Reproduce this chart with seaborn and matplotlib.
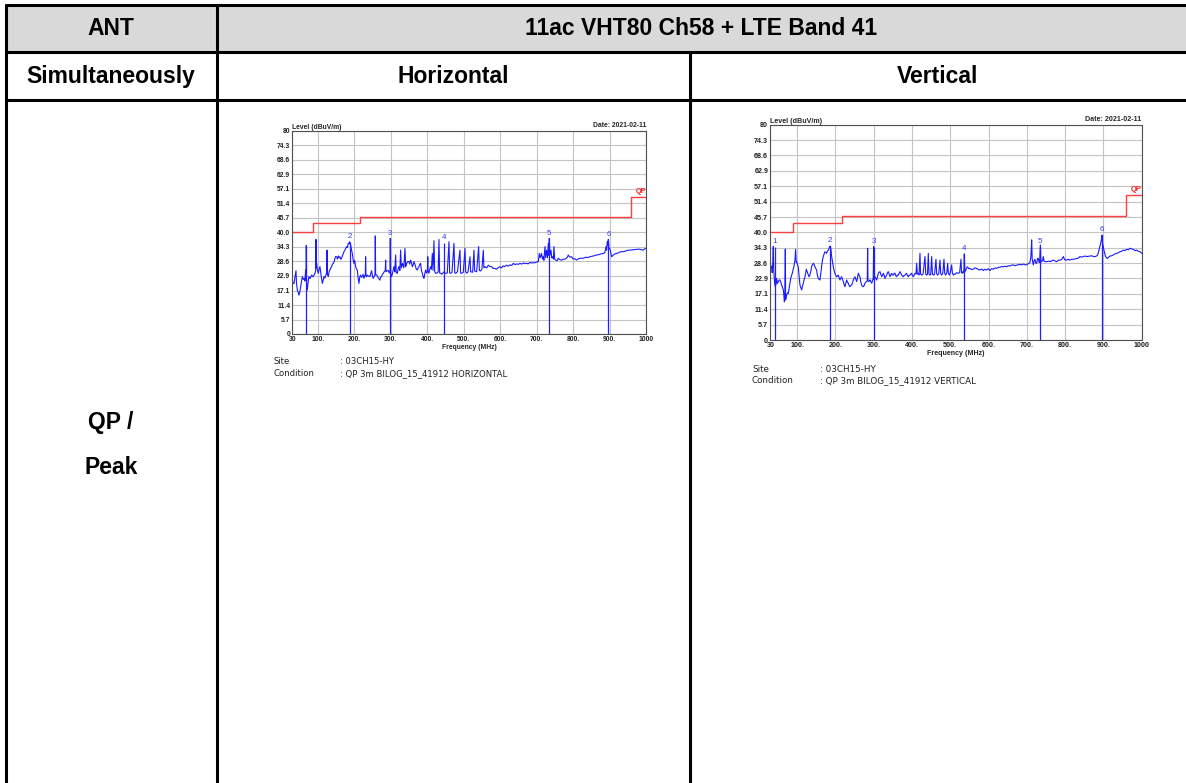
import matplotlib
matplotlib.use("Agg")
import matplotlib.pyplot as plt
import seaborn as sns
import pandas as pd
from matplotlib.lines import Line2D
from matplotlib.patches import Rectangle

sns.set_theme(style="white")
plt.rcParams['font.family'] = ['Liberation Sans', 'DejaVu Sans']

# ---------------- data ----------------
header_ant = "ANT"
header_mode = "11ac VHT80 Ch58 + LTE Band 41"
row2_labels = ["Simultaneously", "Horizontal", "Vertical"]
row3_label = ["QP /", "Peak"]

y_ticks = [0, 5.7, 11.4, 17.1, 22.9, 28.6, 34.3, 40.0, 45.7, 51.4, 57.1, 62.9, 68.6, 74.3, 80]
y_tick_labels = ["0", "5.7", "11.4", "17.1", "22.9", "28.6", "34.3", "40.0", "45.7", "51.4", "57.1", "62.9", "68.6", "74.3", "80"]
x_ticks = [30, 100, 200, 300, 400, 500, 600, 700, 800, 900, 1000]
x_tick_labels = ["30", "100.", "200.", "300.", "400.", "500.", "600.", "700.", "800.", "900.", "1000"]

limit_freq = [30, 88, 216, 960, 1000]
limit_level = [40.0, 43.5, 46.0, 54.0, 54.0]

h_trace = [
    (30,21.2),(32,19.9),(34.6,19.9),(37,22),(40.1,24.9),(41.5,20),(43.7,17.3),(46,16.5),(48.3,15.3),(50.5,16.5),
    (52.9,18.6),(55,20.5),(57.4,22.6),(60,21.5),(62,21.9),(64.5,20.8),(66.6,25.2),(67.8,21),(68.4,34.8),(69.2,20),
    (71.1,17.3),(73,20),(75.7,22.6),(79,21.8),(83,23.2),(87,22.5),(92.2,23.9),(94,25),(94.9,37.2),(95.8,26),
    (96.7,27.8),(99,25),(101.3,23.9),(103.5,25.5),(105.9,26.5),(109,23),(112.3,19.9),(114.5,21),(116.8,22.6),(119.5,22),
    (122.3,23.2),(124,24),(125.1,33.0),(126.2,23.5),(128.7,22.6),(131,24.5),(133.3,25.2),(135.5,26),(137.9,26.5),(140,27.5),
    (142.4,27.8),(145,28.5),(147,29.8),(149,30.5),(151.6,30.4),(154,29.5),(156.2,30.7),(158.5,30),(160.7,30.4),(163,29.4),
    (165.3,29.8),(167.5,30.8),(169.9,31.7),(172,32.5),(174.4,33.0),(176.5,33.6),(179,34.4),(181,34),(183.6,35.7),(185.5,35.5),
    (187.2,36.3),(189,35.5),(190.9,34.4),(192.5,33),(194.6,31.7),(197,29),(199.1,27.8),(201,29),(203.7,26.5),(206,25.5),
    (208.3,25.2),(210.5,22),(212.8,19.9),(215,22.5),(217.4,23.2),(219.5,22.3),(222,22.6),(224,23.5),(226.5,21.9),(229,23),
    (230.2,23),(231.1,30.4),(232,23),(233.5,22.5),(235.7,23.2),(239,22.8),(243,22.6),(245.5,24),(247.6,24.9),(250,22.5),
    (252.2,21.9),(255,23),(256.8,23),(257.6,38.6),(258.5,23.5),(261.3,23.2),(264,22.6),(267,21.8),(270.4,21.2),(272.5,22.5),
    (275,22.6),(277,23.5),(279.6,23.9),(282,24.5),(285,25),(286,29.1),(287,24.5),(290.5,24.9),(293,25),(296,24),
    (298,25),(298.8,37.6),(299.6,24),(302.4,22.6),(305,24),(308.8,26.5),(311,24.5),(313.4,31.1),(315,24),(318,23.9),
    (320,25.5),(322.5,26.5),(325,25),(327.1,33.0),(329,26),(332.6,27.8),(336,26),(339,33.7),(341,26.5),(343.6,27.8),
    (347,28.5),(350,28.5),(352,27.5),(354.5,29.1),(357,28),(359.1,26.5),(361,27),(363.7,28.5),(366,27.5),(368.3,26.5),
    (370,25.5),(372.8,25.2),(375,26),(377.4,26.5),(380,27.5),(382,27.8),(384,25),(386.5,23.9),(389,22.5),(391.1,21.9),
    (393,23.5),(395.7,25.2),(398,24),(400.3,24.5),(401.5,30.4),(402.5,24.5),(404.8,23.9),(407,25.5),(409.4,26.5),(411.5,25.5),
    (414,31.7),(416,25),(418.5,36.7),(420.5,24.5),(423.1,23.9),(427,24),(430,24.5),(432.2,37.2),(434,24),(436.8,23.9),
    (440,23.5),(443,24),(446,24.5),(447.5,24),(450,23.9),(455,24),(459.7,36.3),(461.5,24),(464.2,23.9),(468,24.2),
    (473.4,35.7),(475.5,24),(478,23.9),(483,24.5),(489.8,33.0),(491.5,24),(494.4,23.9),(499,24.3),(503.6,33.7),(505.5,24.5),
    (508.1,23.9),(512,24.5),(517.3,30.4),(519,24.5),(524.6,24.3),(528.2,33.0),(530,24.8),(535.5,24.5),(541,34.4),(543,25),
    (546.5,24.8),(550,25.5),(553.8,33.0),(555.5,26),(558.4,26.5),(563,26),(567.5,27.1),(572,26.5),(576.7,26.5),(581,25.8),
    (585.8,25.8),(590,25.5),(594,26),(599.5,26.5),(604,26),(608,26.8),(612,26.5),(617.8,27.1),(622,26.7),(627,27.2),
    (632,27),(636.1,27.8),(641,27.3),(646,27.6),(650,27.4),(654.4,27.8),(659,27.5),(664,28),(668,27.7),(672.7,27.8),
    (677,27.6),(682,28.2),(686,27.9),(691,28.1),(695,28),(700,28.3),(704.7,28.5),(707.4,31.7),(710,30),(713.8,31.7),
    (716,29.5),(718.4,30.4),(720,29),(723,34.4),(725,30),(727.5,33.0),(730,30),(732.1,35.7),(733.5,31),(734.8,37.6),
    (736.5,31),(739.4,33.0),(741.5,30),(744,30.4),(746,29.5),(747.6,34.4),(749.5,29.5),(752.2,29.1),(756,28.8),(759.5,29.8),
    (764,29.2),(768.7,29.1),(774,29.4),(780,29.6),(784,30.2),(787,31.1),(790,30.3),(796.1,30.4),(800,29.5),(805,29.6),
    (809.8,29.1),(815,29.6),(820,29.8),(828.1,29.8),(834,30.2),(840,30.1),(846.4,30.4),(852,30.6),(858,30.8),(864.7,31.1),
    (870,31.2),(876,31.5),(882.9,31.7),(887,32),(890.3,34.4),(892,33),(893.9,36.3),(895,35),(896.7,37.2),(898.5,34),
    (901.2,33.3),(903.5,32),(905.8,30.4),(910,31),(914,31.5),(919.5,31.7),(925,32),(931,32.4),(937.8,32.4),(943,32.6),
    (949,32.9),(956.1,33.0),(962,33.1),(968,33.2),(974.4,33.3),(980,33.4),(986,33.2),(992.7,33.0),(996,33.5),(1000,33.7),
]

v_trace = [
    (30,29.1),(31.5,27),(33.5,27.2),(35,25),(36.5,29),(37.8,34.7),(39,26),(40,24),(41.3,21.1),(43,19.8),
    (44.5,20.5),(46.5,22.9),(48.5,21),(50.9,21.7),(53,22.3),(55.3,22.3),(57.5,21.5),(59.6,20.4),(62,19.5),(64,18.6),
    (65.5,16.5),(66.6,14.2),(67.8,15),(69.2,33.8),(70,14.9),(71.5,16),(72.7,16.7),(75,17.5),(77,17.3),(79,19),
    (81.4,21.1),(83.5,23),(85.7,24.1),(88,25),(90.1,26.6),(92,27.5),(94.4,29.7),(96.2,33.7),(97.5,29),(98.8,29.1),
    (101,28),(103.1,27.2),(105,24),(107.5,20.4),(109.5,19.5),(111.8,18.6),(114,20),(116.2,21.1),(118.5,22.5),(120.6,23.5),
    (122.5,25),(124,26.3),(126,25.5),(127.5,24.8),(129.5,24),(131,23.5),(133,24),(134.5,24.8),(136.5,26),(138,27.2),
    (140,28),(142.3,28.5),(144.5,28),(146.7,27.2),(149,26.5),(151,26),(153,24),(155.4,22.9),(157.5,22.5),(159.7,22.3),
    (162,25),(164.1,27.2),(166,29.5),(168.4,31.0),(170.5,32),(172.8,32.8),(175,32.5),(177.1,32.2),(179,33),(181.5,33.4),
    (183,34),(185,34.7),(186.7,34.9),(188.5,33.5),(190.2,31.0),(192.5,29),(194.6,27.2),(197,25.5),(198.9,24.8),(201,24),
    (203.3,23.5),(205.5,23.8),(207.6,24.1),(210,23),(212,22.3),(214,23),(216.3,23.5),(218.5,22.5),(220.7,21.7),(223,20.5),
    (225,19.8),(227,21),(229.4,22.3),(231.5,21.5),(233.7,21.1),(236,20.2),(238.1,19.8),(240,20.2),(242.4,20.4),(244.5,21.2),
    (246.8,22.3),(249,23),(251.2,23.5),(253.5,22.5),(255.5,21.7),(257.5,23),(259.9,24.8),(262,24),(264.2,23.5),(266.5,21.5),
    (268.6,20.4),(271,20),(272.9,19.8),(275,20.2),(277.3,21.1),(279.5,21.5),(281.6,21.7),(283.2,22),(284.2,34.1),(285.2,22),
    (287.7,21.7),(289.5,22.2),(291.2,22.3),(293,21.5),(294.7,21.1),(297,22),(298.8,23),(299.9,34.7),(301,22.5),(303.4,23.5),
    (305.5,23),(307.8,22.3),(310,23.5),(312.1,24.8),(314.3,25.2),(316.5,25.4),(318.5,24.5),(320.8,23.5),(323,24),(325.2,24.8),
    (327.5,24),(329.5,22.9),(331.5,23.5),(333.9,24.1),(336,25),(338.2,25.4),(340.5,24.5),(342.6,23.5),(345,24.2),(346.9,24.8),
    (349,24.2),(351.3,24.1),(353.5,24.8),(355.6,24.8),(358,23.8),(360,23.5),(362,24.2),(364.3,24.1),(366.5,24.8),(368.7,25.4),
    (371,24.8),(373,24.1),(375,23.8),(377.4,23.5),(379.5,24),(381.8,24.1),(384,24.5),(386.1,24.8),(388,24),(390.5,23.5),
    (392.5,24),(394.8,24.1),(397,24.5),(399.2,24.8),(401,24),(403.5,23.5),(405.5,24),(407.9,24.8),(410.5,24.5),(412.2,28.5),
    (414,24.5),(416.6,24.8),(418.5,24.2),(420.9,32.2),(422.5,24.5),(425.3,24.1),(429,24.5),(434,31.0),(436,24.5),(438.4,24.1),
    (440.5,24.5),(442.7,32.2),(444.5,24.5),(447.1,24.1),(449,24.3),(451.4,31.0),(453.5,24.5),(455.8,24.1),(459,24.5),(462.7,30.0),
    (464.5,24.6),(467.1,24.1),(470,24.7),(473.2,29.7),(475,24.8),(477.5,24.1),(480.5,24.8),(483.6,30.0),(485.5,24.8),(488,24.1),
    (491,25),(493.2,28.5),(495,25),(497.6,24.1),(500,25),(503.7,27.9),(505.5,25),(508,24.1),(510,24.5),(512.4,24.4),
    (516,25),(521.1,24.8),(524.5,25),(528,30.0),(529.5,25),(531.5,24.8),(533.5,25.5),(535.5,25),(536.7,32.0),(538,25.5),
    (540.2,25.8),(542.5,26.8),(545.4,27.2),(548,26.5),(551.5,26.6),(555,26.2),(560.2,26.3),(564,26.8),(568.9,26.6),(573,26.2),
    (577.7,26),(582,26.4),(586.4,25.8),(590,26.3),(595.1,26),(599,26.5),(603.8,25.8),(608,26.5),(612.5,26.3),(617,26.8),
    (621.2,26.6),(625,27),(629.9,27.0),(634,27.3),(638.6,27.2),(643,27.4),(647.3,27.2),(651,27.6),(656,27.5),(660,27.8),
    (664.7,27.9),(669,27.6),(673.4,27.8),(678,28),(682.1,28.1),(686,27.9),(690.9,28.2),(695,28),(699.6,27.9),(703,28.3),
    (705.7,28.5),(708,28.8),(710,30.3),(711.3,33),(712.6,37.2),(714,30),(715.5,29),(717,27.9),(719,29.5),(721.3,30.0),
    (723.5,28.5),(725.7,28.5),(728,30.3),(730,30.3),(732,28.8),(733.5,29),(735.3,35.3),(737,29),(738.7,29.1),(741,29.5),
    (743.1,31.0),(745,29.3),(747.5,29.1),(751.8,29.1),(756,29.3),(760.5,29.1),(765,29.4),(769.2,29.7),(774,29.3),(777.9,29.1),
    (782,29.6),(786.6,29.7),(791,29.9),(795.3,31.0),(799,29.8),(804,29.7),(808,30.0),(812.8,29.7),(817,30),(821.5,30.0),
    (826,30.1),(830.2,30.3),(834,30.4),(838.9,31.0),(843,30.8),(847.6,31.0),(852,31.2),(856.3,31.0),(861,31.1),(865,31.2),
    (870,31.3),(874,31.0),(878.1,31.0),(882,31.2),(885,31.6),(888.5,33.4),(890,34.5),(892,35.3),(894.6,37.2),(896.3,39.0),
    (897.5,36),(898.9,35.3),(900.5,34),(902.4,32.7),(904,31.8),(905.9,31.0),(907.5,30.7),(909.4,30.3),(913,30.7),(917.3,31.2),
    (921.5,31.3),(926,31.6),(930,32),(934.7,32.2),(939,32.4),(943.4,32.8),(947.5,33.0),(952.1,33.4),(956.5,33.2),(960.8,33.7),
    (965,33.5),(969.5,34.1),(974,33.8),(978.2,33.7),(982.5,33.2),(986.9,33.4),(991,33),(995.6,32.8),(1000,32.2),
]

h_marker_freq = [68.4, 189.0, 299.0, 447.0, 735.0, 897.0]
h_marker_level = [34.8, 36.3, 37.6, 36.0, 37.6, 37.0]
h_marker_label = ["", "2", "3", "4", "5", "6"]

v_marker_freq = [41.3, 186.8, 300.0, 536.9, 735.5, 896.6]
v_marker_level = [34.7, 34.9, 34.7, 32.0, 34.8, 39.0]
v_marker_label = ["1", "2", "3", "4", "5", "6"]

date_text = "Date: 2021-02-11"
site_text = ": 03CH15-HY"
h_condition = ": QP 3m BILOG_15_41912 HORIZONTAL"
v_condition = ": QP 3m BILOG_15_41912 VERTICAL"

# ---------------- figure ----------------
W, H = 1186, 783
fig = plt.figure(figsize=(W / 100, H / 100), dpi=100)
fig.patch.set_facecolor("white")

bg = fig.add_axes([0, 0, 1, 1])
bg.set_xlim(0, W)
bg.set_ylim(H, 0)
bg.axis("off")

lw_tab = 2.2
bg.add_patch(Rectangle((5.5, 4.5), W, 47.5, facecolor="#d9d9d9", edgecolor="none"))
for y in [4.5, 52, 100]:
    bg.add_line(Line2D([5.5, W], [y, y], color="black", lw=lw_tab))
bg.add_line(Line2D([5.5, 5.5], [4.5, H], color="black", lw=lw_tab))
bg.add_line(Line2D([217, 217], [4.5, H], color="black", lw=lw_tab))
bg.add_line(Line2D([690, 690], [52, H], color="black", lw=lw_tab))

tfont = dict(fontsize=16.5, fontweight="bold", color="black", ha="center", va="center")
bg.text(111, 28.5, header_ant, **tfont)
bg.text(701, 28.5, header_mode, **tfont)
bg.text(111, 76.5, row2_labels[0], **tfont)
bg.text(453.5, 76.5, row2_labels[1], **tfont)
bg.text(938, 76.5, row2_labels[2], **tfont)
bg.text(111, 422, row3_label[0], **tfont)
bg.text(111, 468, row3_label[1], **tfont)


def emi_panel(rect, trace, mfreq, mlevel, mlabel, condition, site_xy, fs):
    ax = fig.add_axes(rect)
    df = pd.DataFrame(trace, columns=["freq", "level"])
    lim = pd.DataFrame({"freq": limit_freq, "level": limit_level})
    sns.lineplot(data=lim, x="freq", y="level", ax=ax, color="#ff4040", lw=1.0,
                 drawstyle="steps-post", estimator=None, sort=False)
    sns.lineplot(data=df, x="freq", y="level", ax=ax, color="#1a1aff", lw=0.8,
                 estimator=None, sort=False)
    ax.vlines(mfreq, 0, mlevel, color="#2020ff", lw=0.9)
    for f, l, t in zip(mfreq, mlevel, mlabel):
        if t:
            ax.text(f, l + 0.6, t, color="#3a3aff", fontsize=fs + 0.8, ha="center", va="bottom")
    ax.text(1000, 54.6, "QP", color="#ff2020", fontsize=fs + 0.4, fontweight="bold", ha="right", va="bottom")
    ax.set_xlim(30, 1000)
    ax.set_ylim(0, 80)
    ax.set_xticks(x_ticks)
    ax.set_xticklabels(x_tick_labels, fontsize=fs, fontweight="bold")
    ax.set_yticks(y_ticks)
    ax.set_yticklabels(y_tick_labels, fontsize=fs, fontweight="bold")
    ax.tick_params(length=0, pad=1.5, colors="#202020")
    ax.grid(True, color="#c4c4c4", lw=0.8)
    ax.set_xlabel("Frequency (MHz)", fontsize=fs, fontweight="bold", labelpad=0.5)
    ax.set_ylabel("")
    for s in ax.spines.values():
        s.set_color("#505050")
        s.set_linewidth(0.8)
    ax.text(0.0, 1.0, "Level (dBuV/m)", transform=ax.transAxes, fontsize=fs,
            fontweight="bold", ha="left", va="bottom")
    ax.text(1.0, 1.01, date_text, transform=ax.transAxes, fontsize=fs,
            fontweight="bold", ha="right", va="bottom")
    sx, sy, cx = site_xy
    sfs = fs + 1.2
    bg.text(sx, sy, "Site", fontsize=sfs, family="DejaVu Sans", va="center", ha="left", color="#222222")
    bg.text(cx, sy, site_text, fontsize=sfs, family="DejaVu Sans", va="center", ha="left", color="#222222")
    bg.text(sx, sy + 11.5, "Condition", fontsize=sfs, family="DejaVu Sans", va="center", ha="left", color="#222222")
    bg.text(cx, sy + 11.5, condition, fontsize=sfs, family="DejaVu Sans", va="center", ha="left", color="#222222")
    return ax


emi_panel([292.3 / W, 1 - 334 / H, 353.7 / W, 203.3 / H], h_trace,
          h_marker_freq, h_marker_level, h_marker_label, h_condition, (274, 362, 340), 4.9)
emi_panel([770.3 / W, 1 - 340 / H, 371.4 / W, 215.3 / H], v_trace,
          v_marker_freq, v_marker_level, v_marker_label, v_condition, (752, 369, 820), 5.1)

fig.savefig("out.png", dpi=100)
